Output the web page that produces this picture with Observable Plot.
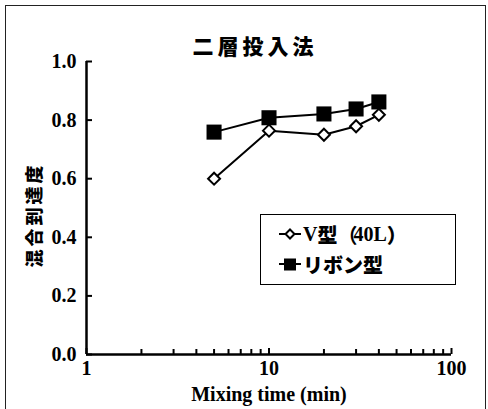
<!DOCTYPE html>
<html>
<head>
<meta charset="utf-8">
<script src="https://cdn.jsdelivr.net/npm/d3@7"></script>
<script src="https://cdn.jsdelivr.net/npm/@observablehq/plot@0.6"></script>
<style>
  html, body { margin: 0; padding: 0; background: #fff; }
  #wrap { position: relative; width: 488px; height: 409px; overflow: hidden; }
  #frame { position: absolute; left: 5px; top: 5px; width: 481px; height: 420px; border: 1.5px solid #222; box-sizing: border-box; pointer-events: none; }
  #title { position: absolute; left: 0; width: 510px; top: 31px; text-align: center; font-family: "Noto Sans CJK JP", sans-serif; font-weight: 900; font-size: 21px; letter-spacing: 4px; line-height: 28px; }
  #ylabel { position: absolute; left: 33px; top: 215px; transform: translate(-50%, -50%) rotate(-90deg); font-family: "Noto Sans CJK JP", sans-serif; font-weight: 900; font-size: 18px; letter-spacing: 3px; white-space: nowrap; line-height: 20px; }
  #legend { position: absolute; left: 260px; top: 214px; width: 196px; height: 71px; border: 1.5px solid #000; box-sizing: border-box; background: #fff; }
  .row { position: absolute; left: 18px; height: 24px; display: flex; align-items: center; font-weight: 700; font-size: 20px; }
  .row svg { margin-right: 2px; }
  .ser { font-family: "Liberation Serif", serif; }
  .jp { font-family: "Noto Sans CJK JP", sans-serif; font-weight: 900; }
  .par { font-family: "Noto Sans CJK JP", sans-serif; letter-spacing: -4px; }
  svg.plot { position: absolute; left: 0; top: 0; }
</style>
</head>
<body>
<div id="wrap">
  <div id="frame"></div>
  <div id="title">二層投入法</div>
  <div id="ylabel">混合到達度</div>
</div>
<script>
const times = [5, 10, 20, 30, 40];
const vType = [0.60, 0.764, 0.750, 0.779, 0.818];
const ribbon = [0.759, 0.808, 0.821, 0.838, 0.862];
const seriesNames = ["V型（40L）", "リボン型"];
const xTicks = [1, 10, 100];
const xMinorTicks = [2,3,4,5,6,7,8,9,20,30,40,50,60,70,80,90];
const yTicks = [0, 0.2, 0.4, 0.6, 0.8, 1.0];

const vData = times.map((t, i) => ({t, v: vType[i]}));
const rData = times.map((t, i) => ({t, v: ribbon[i]}));

const W = 488, H = 409;
const mL = 86, mR = 37, mT = 61, mB = 55;
const fw = W - mL - mR, fh = H - mT - mB;

const plot = Plot.plot({
  width: W, height: H,
  marginLeft: mL, marginRight: mR, marginTop: mT, marginBottom: mB,
  style: {fontFamily: "Liberation Serif, serif", fontWeight: "bold", fontSize: "20px", color: "#000", background: "transparent"},
  x: {type: "log", domain: [1, 100]},
  y: {domain: [0, 1]},
  marks: [
    Plot.ruleX(xMinorTicks, {x: d => d, stroke: "#000", strokeWidth: 2, insetTop: fh - 5}),
    Plot.ruleX(xTicks, {x: d => d, stroke: "#000", strokeWidth: 2, insetTop: fh - 6}),
    Plot.ruleY(yTicks, {y: d => d, stroke: "#000", strokeWidth: 2, insetRight: fw - 6}),
    Plot.axisX({ticks: xTicks, tickSize: 0, tickPadding: 6, tickFormat: d => String(d), label: null, fontSize: 20}),
    Plot.axisY({ticks: yTicks, tickSize: 0, tickPadding: 10, tickFormat: d3.format(".1f"), label: null, fontSize: 20}),
    Plot.text(["Mixing time (min)"], {frameAnchor: "bottom", dy: 46, fontSize: 20, fontWeight: "bold", fill: "#000"}),
    Plot.ruleX([1], {stroke: "#000", strokeWidth: 2.5}),
    Plot.ruleY([0], {stroke: "#000", strokeWidth: 2.5}),
    Plot.line(rData, {x: "t", y: "v", stroke: "#000", strokeWidth: 2}),
    Plot.line(vData, {x: "t", y: "v", stroke: "#000", strokeWidth: 2}),
    Plot.dot(rData, {x: "t", y: "v", symbol: "square", r: 8.5, fill: "#000", stroke: "none"}),
    Plot.dot(vData, {x: "t", y: "v", symbol: "diamond2", r: 5.4, fill: "#fff", stroke: "#000", strokeWidth: 2})
  ]
});
document.getElementById("wrap").appendChild(plot);

// Legend
const legend = document.createElement("div");
legend.id = "legend";
const rows = [
  {sym: `<svg width="22" height="14"><line x1="0" y1="7" x2="22" y2="7" stroke="#000" stroke-width="2"/><path d="M11 2.5 L15.5 7 L11 11.5 L6.5 7 Z" fill="#fff" stroke="#000" stroke-width="2"/></svg>`, top: 7,
   html: `<span class="ser">V</span><span class="jp">型</span><span class="par">（</span><span class="ser">40L</span><span class="jp">）</span>`},
  {sym: `<svg width="22" height="14"><line x1="0" y1="7" x2="22" y2="7" stroke="#000" stroke-width="2"/><rect x="5" y="1.5" width="12" height="12" fill="#000"/></svg>`, top: 37,
   html: `<span class="jp">${seriesNames[1]}</span>`}
];
for (const r of rows) {
  const d = document.createElement("div");
  d.className = "row";
  d.style.top = r.top + "px";
  d.innerHTML = r.sym + r.html;
  legend.appendChild(d);
}
document.getElementById("wrap").appendChild(legend);
</script>
</body>
</html>
